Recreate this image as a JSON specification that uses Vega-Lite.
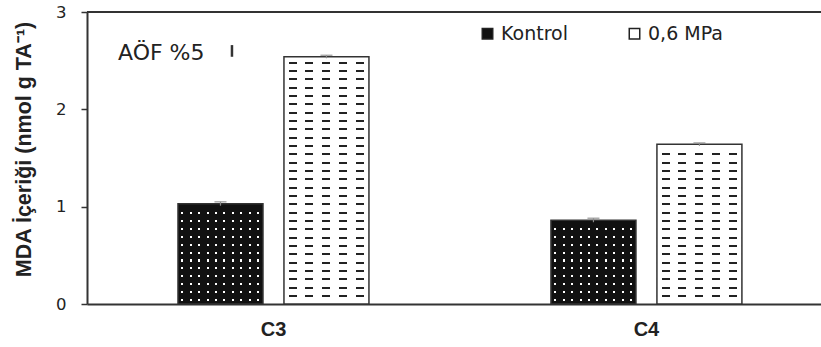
{
  "$schema": "https://vega.github.io/schema/vega-lite/v6.json",
  "width": 734,
  "height": 292,
  "autosize": {"type": "none"},
  "padding": {"left": 87, "top": 12, "right": 0, "bottom": 43},
  "background": "white",
  "config": {"view": {"stroke": null}, "font": "Liberation Sans"},
  "data": {"values": [
    {"site": "C3", "grp": "Kontrol", "mda": 1.03, "lo": 1.01, "hi": 1.05},
    {"site": "C3", "grp": "0,6 MPa", "mda": 2.54, "lo": 2.525, "hi": 2.555},
    {"site": "C4", "grp": "Kontrol", "mda": 0.86, "lo": 0.84, "hi": 0.88},
    {"site": "C4", "grp": "0,6 MPa", "mda": 1.64, "lo": 1.625, "hi": 1.655}
  ]},
  "resolve": {"scale": {"x": "independent"}},
  "layer": [
    {
      "encoding": {
        "x": {"field": "site", "type": "nominal", "title": null,
          "scale": {"paddingInner": 0.488, "paddingOuter": 0.228, "align": 0.535},
          "axis": {"labelAngle": 0, "ticks": false, "domainColor": "#333", "domainWidth": 2, "labelFont": "Liberation Sans", "labelFontSize": 20, "labelFontWeight": "bold", "labelColor": "#222", "labelPadding": 15}},
        "xOffset": {"field": "grp", "type": "nominal", "sort": ["Kontrol", "0,6 MPa"], "scale": {"paddingInner": 0.198, "paddingOuter": 0}},
        "y": {"field": "mda", "type": "quantitative", "scale": {"domain": [0, 3], "nice": false},
          "axis": {"values": [0, 1, 2, 3], "format": "d", "grid": false, "domainColor": "#333", "domainWidth": 2, "tickColor": "#333", "tickWidth": 1.5, "tickSize": 6, "labelFont": "DejaVu Sans", "labelFontSize": 16.5, "labelColor": "#222", "labelPadding": 15,
            "title": "MDA İçeriği (nmol g TA⁻¹)", "titleFont": "Liberation Sans", "titleFontSize": 21.5, "titleFontWeight": "bold", "titleColor": "#222", "titlePadding": 20, "titleY": 137}}
      },
      "layer": [
        {
          "mark": {"type": "bar"},
          "encoding": {
            "color": {"field": "grp", "type": "nominal", "sort": ["Kontrol", "0,6 MPa"],
              "scale": {"domain": ["Kontrol", "0,6 MPa"], "range": ["#111111", "#ffffff"]},
              "legend": {"title": null, "orient": "none", "legendX": 391, "legendY": 12, "direction": "horizontal", "symbolType": "square", "symbolSize": 110, "symbolStrokeColor": "#222", "symbolStrokeWidth": 1.5, "labelFont": "DejaVu Sans", "labelFontSize": 19, "labelColor": "#222", "labelOffset": 4, "columnPadding": 57, "padding": 0}}
          }
        },
        {
          "transform": [{"filter": "datum.grp === '0,6 MPa'"}],
          "mark": {"type": "bar"},
          "encoding": {
            "fill": {
              "condition": {"test": "datum.site === 'C3'", "value": {"gradient": "linear", "x1": 0, "y1": 0, "x2": 0, "y2": 1, "stops": [
                {"offset": 0, "color": "rgba(0,0,0,0)"},
                {"offset": 0.0201, "color": "rgba(0,0,0,0)"}, {"offset": 0.0201, "color": "#222"}, {"offset": 0.0281, "color": "#222"}, {"offset": 0.0281, "color": "rgba(0,0,0,0)"},
                {"offset": 0.0538, "color": "rgba(0,0,0,0)"}, {"offset": 0.0538, "color": "#222"}, {"offset": 0.0618, "color": "#222"}, {"offset": 0.0618, "color": "rgba(0,0,0,0)"},
                {"offset": 0.0875, "color": "rgba(0,0,0,0)"}, {"offset": 0.0875, "color": "#222"}, {"offset": 0.0955, "color": "#222"}, {"offset": 0.0955, "color": "rgba(0,0,0,0)"},
                {"offset": 0.1212, "color": "rgba(0,0,0,0)"}, {"offset": 0.1212, "color": "#222"}, {"offset": 0.1292, "color": "#222"}, {"offset": 0.1292, "color": "rgba(0,0,0,0)"},
                {"offset": 0.1549, "color": "rgba(0,0,0,0)"}, {"offset": 0.1549, "color": "#222"}, {"offset": 0.1629, "color": "#222"}, {"offset": 0.1629, "color": "rgba(0,0,0,0)"},
                {"offset": 0.1886, "color": "rgba(0,0,0,0)"}, {"offset": 0.1886, "color": "#222"}, {"offset": 0.1966, "color": "#222"}, {"offset": 0.1966, "color": "rgba(0,0,0,0)"},
                {"offset": 0.2223, "color": "rgba(0,0,0,0)"}, {"offset": 0.2223, "color": "#222"}, {"offset": 0.2303, "color": "#222"}, {"offset": 0.2303, "color": "rgba(0,0,0,0)"},
                {"offset": 0.2560, "color": "rgba(0,0,0,0)"}, {"offset": 0.2560, "color": "#222"}, {"offset": 0.2640, "color": "#222"}, {"offset": 0.2640, "color": "rgba(0,0,0,0)"},
                {"offset": 0.2897, "color": "rgba(0,0,0,0)"}, {"offset": 0.2897, "color": "#222"}, {"offset": 0.2977, "color": "#222"}, {"offset": 0.2977, "color": "rgba(0,0,0,0)"},
                {"offset": 0.3234, "color": "rgba(0,0,0,0)"}, {"offset": 0.3234, "color": "#222"}, {"offset": 0.3314, "color": "#222"}, {"offset": 0.3314, "color": "rgba(0,0,0,0)"},
                {"offset": 0.3571, "color": "rgba(0,0,0,0)"}, {"offset": 0.3571, "color": "#222"}, {"offset": 0.3651, "color": "#222"}, {"offset": 0.3651, "color": "rgba(0,0,0,0)"},
                {"offset": 0.3908, "color": "rgba(0,0,0,0)"}, {"offset": 0.3908, "color": "#222"}, {"offset": 0.3988, "color": "#222"}, {"offset": 0.3988, "color": "rgba(0,0,0,0)"},
                {"offset": 0.4245, "color": "rgba(0,0,0,0)"}, {"offset": 0.4245, "color": "#222"}, {"offset": 0.4325, "color": "#222"}, {"offset": 0.4325, "color": "rgba(0,0,0,0)"},
                {"offset": 0.4582, "color": "rgba(0,0,0,0)"}, {"offset": 0.4582, "color": "#222"}, {"offset": 0.4662, "color": "#222"}, {"offset": 0.4662, "color": "rgba(0,0,0,0)"},
                {"offset": 0.4919, "color": "rgba(0,0,0,0)"}, {"offset": 0.4919, "color": "#222"}, {"offset": 0.4999, "color": "#222"}, {"offset": 0.4999, "color": "rgba(0,0,0,0)"},
                {"offset": 0.5256, "color": "rgba(0,0,0,0)"}, {"offset": 0.5256, "color": "#222"}, {"offset": 0.5336, "color": "#222"}, {"offset": 0.5336, "color": "rgba(0,0,0,0)"},
                {"offset": 0.5593, "color": "rgba(0,0,0,0)"}, {"offset": 0.5593, "color": "#222"}, {"offset": 0.5673, "color": "#222"}, {"offset": 0.5673, "color": "rgba(0,0,0,0)"},
                {"offset": 0.5930, "color": "rgba(0,0,0,0)"}, {"offset": 0.5930, "color": "#222"}, {"offset": 0.6010, "color": "#222"}, {"offset": 0.6010, "color": "rgba(0,0,0,0)"},
                {"offset": 0.6267, "color": "rgba(0,0,0,0)"}, {"offset": 0.6267, "color": "#222"}, {"offset": 0.6347, "color": "#222"}, {"offset": 0.6347, "color": "rgba(0,0,0,0)"},
                {"offset": 0.6604, "color": "rgba(0,0,0,0)"}, {"offset": 0.6604, "color": "#222"}, {"offset": 0.6684, "color": "#222"}, {"offset": 0.6684, "color": "rgba(0,0,0,0)"},
                {"offset": 0.6941, "color": "rgba(0,0,0,0)"}, {"offset": 0.6941, "color": "#222"}, {"offset": 0.7021, "color": "#222"}, {"offset": 0.7021, "color": "rgba(0,0,0,0)"},
                {"offset": 0.7278, "color": "rgba(0,0,0,0)"}, {"offset": 0.7278, "color": "#222"}, {"offset": 0.7358, "color": "#222"}, {"offset": 0.7358, "color": "rgba(0,0,0,0)"},
                {"offset": 0.7615, "color": "rgba(0,0,0,0)"}, {"offset": 0.7615, "color": "#222"}, {"offset": 0.7695, "color": "#222"}, {"offset": 0.7695, "color": "rgba(0,0,0,0)"},
                {"offset": 0.7952, "color": "rgba(0,0,0,0)"}, {"offset": 0.7952, "color": "#222"}, {"offset": 0.8032, "color": "#222"}, {"offset": 0.8032, "color": "rgba(0,0,0,0)"},
                {"offset": 0.8289, "color": "rgba(0,0,0,0)"}, {"offset": 0.8289, "color": "#222"}, {"offset": 0.8369, "color": "#222"}, {"offset": 0.8369, "color": "rgba(0,0,0,0)"},
                {"offset": 0.8625, "color": "rgba(0,0,0,0)"}, {"offset": 0.8625, "color": "#222"}, {"offset": 0.8705, "color": "#222"}, {"offset": 0.8705, "color": "rgba(0,0,0,0)"},
                {"offset": 0.8962, "color": "rgba(0,0,0,0)"}, {"offset": 0.8962, "color": "#222"}, {"offset": 0.9042, "color": "#222"}, {"offset": 0.9042, "color": "rgba(0,0,0,0)"},
                {"offset": 0.9299, "color": "rgba(0,0,0,0)"}, {"offset": 0.9299, "color": "#222"}, {"offset": 0.9379, "color": "#222"}, {"offset": 0.9379, "color": "rgba(0,0,0,0)"},
                {"offset": 0.9636, "color": "rgba(0,0,0,0)"}, {"offset": 0.9636, "color": "#222"}, {"offset": 0.9716, "color": "#222"}, {"offset": 0.9716, "color": "rgba(0,0,0,0)"},
                {"offset": 1, "color": "rgba(0,0,0,0)"}
              ]}},
              "value": {"gradient": "linear", "x1": 0, "y1": 0, "x2": 0, "y2": 1, "stops": [
                {"offset": 0, "color": "rgba(0,0,0,0)"},
                {"offset": 0.0563, "color": "rgba(0,0,0,0)"}, {"offset": 0.0563, "color": "#222"}, {"offset": 0.0689, "color": "#222"}, {"offset": 0.0689, "color": "rgba(0,0,0,0)"},
                {"offset": 0.1085, "color": "rgba(0,0,0,0)"}, {"offset": 0.1085, "color": "#222"}, {"offset": 0.1211, "color": "#222"}, {"offset": 0.1211, "color": "rgba(0,0,0,0)"},
                {"offset": 0.1607, "color": "rgba(0,0,0,0)"}, {"offset": 0.1607, "color": "#222"}, {"offset": 0.1733, "color": "#222"}, {"offset": 0.1733, "color": "rgba(0,0,0,0)"},
                {"offset": 0.2129, "color": "rgba(0,0,0,0)"}, {"offset": 0.2129, "color": "#222"}, {"offset": 0.2255, "color": "#222"}, {"offset": 0.2255, "color": "rgba(0,0,0,0)"},
                {"offset": 0.2651, "color": "rgba(0,0,0,0)"}, {"offset": 0.2651, "color": "#222"}, {"offset": 0.2777, "color": "#222"}, {"offset": 0.2777, "color": "rgba(0,0,0,0)"},
                {"offset": 0.3173, "color": "rgba(0,0,0,0)"}, {"offset": 0.3173, "color": "#222"}, {"offset": 0.3299, "color": "#222"}, {"offset": 0.3299, "color": "rgba(0,0,0,0)"},
                {"offset": 0.3695, "color": "rgba(0,0,0,0)"}, {"offset": 0.3695, "color": "#222"}, {"offset": 0.3821, "color": "#222"}, {"offset": 0.3821, "color": "rgba(0,0,0,0)"},
                {"offset": 0.4217, "color": "rgba(0,0,0,0)"}, {"offset": 0.4217, "color": "#222"}, {"offset": 0.4343, "color": "#222"}, {"offset": 0.4343, "color": "rgba(0,0,0,0)"},
                {"offset": 0.4738, "color": "rgba(0,0,0,0)"}, {"offset": 0.4738, "color": "#222"}, {"offset": 0.4864, "color": "#222"}, {"offset": 0.4864, "color": "rgba(0,0,0,0)"},
                {"offset": 0.5260, "color": "rgba(0,0,0,0)"}, {"offset": 0.5260, "color": "#222"}, {"offset": 0.5386, "color": "#222"}, {"offset": 0.5386, "color": "rgba(0,0,0,0)"},
                {"offset": 0.5782, "color": "rgba(0,0,0,0)"}, {"offset": 0.5782, "color": "#222"}, {"offset": 0.5908, "color": "#222"}, {"offset": 0.5908, "color": "rgba(0,0,0,0)"},
                {"offset": 0.6304, "color": "rgba(0,0,0,0)"}, {"offset": 0.6304, "color": "#222"}, {"offset": 0.6430, "color": "#222"}, {"offset": 0.6430, "color": "rgba(0,0,0,0)"},
                {"offset": 0.6826, "color": "rgba(0,0,0,0)"}, {"offset": 0.6826, "color": "#222"}, {"offset": 0.6952, "color": "#222"}, {"offset": 0.6952, "color": "rgba(0,0,0,0)"},
                {"offset": 0.7348, "color": "rgba(0,0,0,0)"}, {"offset": 0.7348, "color": "#222"}, {"offset": 0.7474, "color": "#222"}, {"offset": 0.7474, "color": "rgba(0,0,0,0)"},
                {"offset": 0.7870, "color": "rgba(0,0,0,0)"}, {"offset": 0.7870, "color": "#222"}, {"offset": 0.7996, "color": "#222"}, {"offset": 0.7996, "color": "rgba(0,0,0,0)"},
                {"offset": 0.8392, "color": "rgba(0,0,0,0)"}, {"offset": 0.8392, "color": "#222"}, {"offset": 0.8518, "color": "#222"}, {"offset": 0.8518, "color": "rgba(0,0,0,0)"},
                {"offset": 0.8914, "color": "rgba(0,0,0,0)"}, {"offset": 0.8914, "color": "#222"}, {"offset": 0.9040, "color": "#222"}, {"offset": 0.9040, "color": "rgba(0,0,0,0)"},
                {"offset": 0.9436, "color": "rgba(0,0,0,0)"}, {"offset": 0.9436, "color": "#222"}, {"offset": 0.9562, "color": "#222"}, {"offset": 0.9562, "color": "rgba(0,0,0,0)"},
                {"offset": 1, "color": "rgba(0,0,0,0)"}
              ]}
            }
          }
        },
        {
          "transform": [{"filter": "datum.grp === '0,6 MPa'"}],
          "mark": {"type": "bar", "fill": {"gradient": "linear", "x1": 0, "y1": 0, "x2": 1, "y2": 0, "stops": [
            {"offset": 0, "color": "#ffffff"},
            {"offset": 0.0588, "color": "#ffffff"}, {"offset": 0.0588, "color": "rgba(255,255,255,0)"}, {"offset": 0.1529, "color": "rgba(255,255,255,0)"}, {"offset": 0.1529, "color": "#ffffff"},
            {"offset": 0.2529, "color": "#ffffff"}, {"offset": 0.2529, "color": "rgba(255,255,255,0)"}, {"offset": 0.3471, "color": "rgba(255,255,255,0)"}, {"offset": 0.3471, "color": "#ffffff"},
            {"offset": 0.4529, "color": "#ffffff"}, {"offset": 0.4529, "color": "rgba(255,255,255,0)"}, {"offset": 0.5471, "color": "rgba(255,255,255,0)"}, {"offset": 0.5471, "color": "#ffffff"},
            {"offset": 0.6529, "color": "#ffffff"}, {"offset": 0.6529, "color": "rgba(255,255,255,0)"}, {"offset": 0.7471, "color": "rgba(255,255,255,0)"}, {"offset": 0.7471, "color": "#ffffff"},
            {"offset": 0.8471, "color": "#ffffff"}, {"offset": 0.8471, "color": "rgba(255,255,255,0)"}, {"offset": 0.9412, "color": "rgba(255,255,255,0)"}, {"offset": 0.9412, "color": "#ffffff"},
            {"offset": 1, "color": "#ffffff"}
          ]}}
        },
        {
          "transform": [{"filter": "datum.grp === 'Kontrol'"}],
          "mark": {"type": "bar"},
          "encoding": {
            "fill": {
              "condition": {"test": "datum.site === 'C3'", "value": {"gradient": "linear", "x1": 0, "y1": 0, "x2": 0, "y2": 1, "stops": [
                {"offset": 0, "color": "rgba(255,255,255,0)"},
                {"offset": 0.0833, "color": "rgba(255,255,255,0)"}, {"offset": 0.0833, "color": "#ffffff"}, {"offset": 0.1033, "color": "#ffffff"}, {"offset": 0.1033, "color": "rgba(255,255,255,0)"},
                {"offset": 0.1621, "color": "rgba(255,255,255,0)"}, {"offset": 0.1621, "color": "#ffffff"}, {"offset": 0.1821, "color": "#ffffff"}, {"offset": 0.1821, "color": "rgba(255,255,255,0)"},
                {"offset": 0.2409, "color": "rgba(255,255,255,0)"}, {"offset": 0.2409, "color": "#ffffff"}, {"offset": 0.2609, "color": "#ffffff"}, {"offset": 0.2609, "color": "rgba(255,255,255,0)"},
                {"offset": 0.3197, "color": "rgba(255,255,255,0)"}, {"offset": 0.3197, "color": "#ffffff"}, {"offset": 0.3397, "color": "#ffffff"}, {"offset": 0.3397, "color": "rgba(255,255,255,0)"},
                {"offset": 0.3985, "color": "rgba(255,255,255,0)"}, {"offset": 0.3985, "color": "#ffffff"}, {"offset": 0.4185, "color": "#ffffff"}, {"offset": 0.4185, "color": "rgba(255,255,255,0)"},
                {"offset": 0.4773, "color": "rgba(255,255,255,0)"}, {"offset": 0.4773, "color": "#ffffff"}, {"offset": 0.4973, "color": "#ffffff"}, {"offset": 0.4973, "color": "rgba(255,255,255,0)"},
                {"offset": 0.5561, "color": "rgba(255,255,255,0)"}, {"offset": 0.5561, "color": "#ffffff"}, {"offset": 0.5761, "color": "#ffffff"}, {"offset": 0.5761, "color": "rgba(255,255,255,0)"},
                {"offset": 0.6349, "color": "rgba(255,255,255,0)"}, {"offset": 0.6349, "color": "#ffffff"}, {"offset": 0.6549, "color": "#ffffff"}, {"offset": 0.6549, "color": "rgba(255,255,255,0)"},
                {"offset": 0.7137, "color": "rgba(255,255,255,0)"}, {"offset": 0.7137, "color": "#ffffff"}, {"offset": 0.7337, "color": "#ffffff"}, {"offset": 0.7337, "color": "rgba(255,255,255,0)"},
                {"offset": 0.7925, "color": "rgba(255,255,255,0)"}, {"offset": 0.7925, "color": "#ffffff"}, {"offset": 0.8125, "color": "#ffffff"}, {"offset": 0.8125, "color": "rgba(255,255,255,0)"},
                {"offset": 0.8713, "color": "rgba(255,255,255,0)"}, {"offset": 0.8713, "color": "#ffffff"}, {"offset": 0.8913, "color": "#ffffff"}, {"offset": 0.8913, "color": "rgba(255,255,255,0)"},
                {"offset": 0.9501, "color": "rgba(255,255,255,0)"}, {"offset": 0.9501, "color": "#ffffff"}, {"offset": 0.9701, "color": "#ffffff"}, {"offset": 0.9701, "color": "rgba(255,255,255,0)"},
                {"offset": 1, "color": "rgba(255,255,255,0)"}
              ]}},
              "value": {"gradient": "linear", "x1": 0, "y1": 0, "x2": 0, "y2": 1, "stops": [
                {"offset": 0, "color": "rgba(255,255,255,0)"},
                {"offset": 0.0907, "color": "rgba(255,255,255,0)"}, {"offset": 0.0907, "color": "#ffffff"}, {"offset": 0.1147, "color": "#ffffff"}, {"offset": 0.1147, "color": "rgba(255,255,255,0)"},
                {"offset": 0.1851, "color": "rgba(255,255,255,0)"}, {"offset": 0.1851, "color": "#ffffff"}, {"offset": 0.2091, "color": "#ffffff"}, {"offset": 0.2091, "color": "rgba(255,255,255,0)"},
                {"offset": 0.2795, "color": "rgba(255,255,255,0)"}, {"offset": 0.2795, "color": "#ffffff"}, {"offset": 0.3035, "color": "#ffffff"}, {"offset": 0.3035, "color": "rgba(255,255,255,0)"},
                {"offset": 0.3739, "color": "rgba(255,255,255,0)"}, {"offset": 0.3739, "color": "#ffffff"}, {"offset": 0.3979, "color": "#ffffff"}, {"offset": 0.3979, "color": "rgba(255,255,255,0)"},
                {"offset": 0.4683, "color": "rgba(255,255,255,0)"}, {"offset": 0.4683, "color": "#ffffff"}, {"offset": 0.4923, "color": "#ffffff"}, {"offset": 0.4923, "color": "rgba(255,255,255,0)"},
                {"offset": 0.5627, "color": "rgba(255,255,255,0)"}, {"offset": 0.5627, "color": "#ffffff"}, {"offset": 0.5867, "color": "#ffffff"}, {"offset": 0.5867, "color": "rgba(255,255,255,0)"},
                {"offset": 0.6571, "color": "rgba(255,255,255,0)"}, {"offset": 0.6571, "color": "#ffffff"}, {"offset": 0.6811, "color": "#ffffff"}, {"offset": 0.6811, "color": "rgba(255,255,255,0)"},
                {"offset": 0.7514, "color": "rgba(255,255,255,0)"}, {"offset": 0.7514, "color": "#ffffff"}, {"offset": 0.7754, "color": "#ffffff"}, {"offset": 0.7754, "color": "rgba(255,255,255,0)"},
                {"offset": 0.8458, "color": "rgba(255,255,255,0)"}, {"offset": 0.8458, "color": "#ffffff"}, {"offset": 0.8698, "color": "#ffffff"}, {"offset": 0.8698, "color": "rgba(255,255,255,0)"},
                {"offset": 0.9402, "color": "rgba(255,255,255,0)"}, {"offset": 0.9402, "color": "#ffffff"}, {"offset": 0.9642, "color": "#ffffff"}, {"offset": 0.9642, "color": "rgba(255,255,255,0)"},
                {"offset": 1, "color": "rgba(255,255,255,0)"}
              ]}
            }
          }
        },
        {
          "transform": [{"filter": "datum.grp === 'Kontrol'"}],
          "mark": {"type": "bar", "fill": {"gradient": "linear", "x1": 0, "y1": 0, "x2": 1, "y2": 0, "stops": [
            {"offset": 0, "color": "#111111"},
            {"offset": 0.0411, "color": "#111111"}, {"offset": 0.0411, "color": "rgba(17,17,17,0)"}, {"offset": 0.0647, "color": "rgba(17,17,17,0)"}, {"offset": 0.0647, "color": "#111111"},
            {"offset": 0.1400, "color": "#111111"}, {"offset": 0.1400, "color": "rgba(17,17,17,0)"}, {"offset": 0.1636, "color": "rgba(17,17,17,0)"}, {"offset": 0.1636, "color": "#111111"},
            {"offset": 0.2388, "color": "#111111"}, {"offset": 0.2388, "color": "rgba(17,17,17,0)"}, {"offset": 0.2624, "color": "rgba(17,17,17,0)"}, {"offset": 0.2624, "color": "#111111"},
            {"offset": 0.3376, "color": "#111111"}, {"offset": 0.3376, "color": "rgba(17,17,17,0)"}, {"offset": 0.3612, "color": "rgba(17,17,17,0)"}, {"offset": 0.3612, "color": "#111111"},
            {"offset": 0.4364, "color": "#111111"}, {"offset": 0.4364, "color": "rgba(17,17,17,0)"}, {"offset": 0.4600, "color": "rgba(17,17,17,0)"}, {"offset": 0.4600, "color": "#111111"},
            {"offset": 0.5353, "color": "#111111"}, {"offset": 0.5353, "color": "rgba(17,17,17,0)"}, {"offset": 0.5589, "color": "rgba(17,17,17,0)"}, {"offset": 0.5589, "color": "#111111"},
            {"offset": 0.6341, "color": "#111111"}, {"offset": 0.6341, "color": "rgba(17,17,17,0)"}, {"offset": 0.6577, "color": "rgba(17,17,17,0)"}, {"offset": 0.6577, "color": "#111111"},
            {"offset": 0.7329, "color": "#111111"}, {"offset": 0.7329, "color": "rgba(17,17,17,0)"}, {"offset": 0.7565, "color": "rgba(17,17,17,0)"}, {"offset": 0.7565, "color": "#111111"},
            {"offset": 0.8317, "color": "#111111"}, {"offset": 0.8317, "color": "rgba(17,17,17,0)"}, {"offset": 0.8553, "color": "rgba(17,17,17,0)"}, {"offset": 0.8553, "color": "#111111"},
            {"offset": 0.9306, "color": "#111111"}, {"offset": 0.9306, "color": "rgba(17,17,17,0)"}, {"offset": 0.9542, "color": "rgba(17,17,17,0)"}, {"offset": 0.9542, "color": "#111111"},
            {"offset": 1, "color": "#111111"}
          ]}}
        },
        {
          "mark": {"type": "bar", "fill": "#ffffff", "fillOpacity": 0, "stroke": "#333333", "strokeWidth": 1.5}
        },
        {
          "mark": {"type": "rule", "color": "#888888", "strokeWidth": 1.2},
          "encoding": {"y": {"field": "lo", "type": "quantitative"}, "y2": {"field": "hi"}}
        },
        {
          "mark": {"type": "tick", "color": "#888888", "size": 12, "thickness": 1.5},
          "encoding": {"y": {"field": "hi", "type": "quantitative"}}
        }
      ]
    },
    {
      "data": {"values": [{"label": "AÖF %5"}]},
      "layer": [
        {
          "mark": {"type": "rule", "color": "#333333", "strokeWidth": 2},
          "encoding": {"y": {"datum": 3, "type": "quantitative"}}
        },
        {
          "mark": {"type": "text", "align": "left", "baseline": "alphabetic", "font": "DejaVu Sans", "fontSize": 22, "color": "#222222"},
          "encoding": {
            "x": {"datum": 0.0422, "type": "quantitative", "scale": {"domain": [0, 1]}, "axis": null},
            "y": {"datum": 2.51, "type": "quantitative"},
            "text": {"field": "label"}
          }
        },
        {
          "mark": {"type": "rule", "color": "#333333", "strokeWidth": 2.5},
          "encoding": {
            "x": {"datum": 0.1975, "type": "quantitative", "scale": {"domain": [0, 1]}, "axis": null},
            "y": {"datum": 2.54, "type": "quantitative"},
            "y2": {"datum": 2.66}
          }
        }
      ]
    }
  ]
}
